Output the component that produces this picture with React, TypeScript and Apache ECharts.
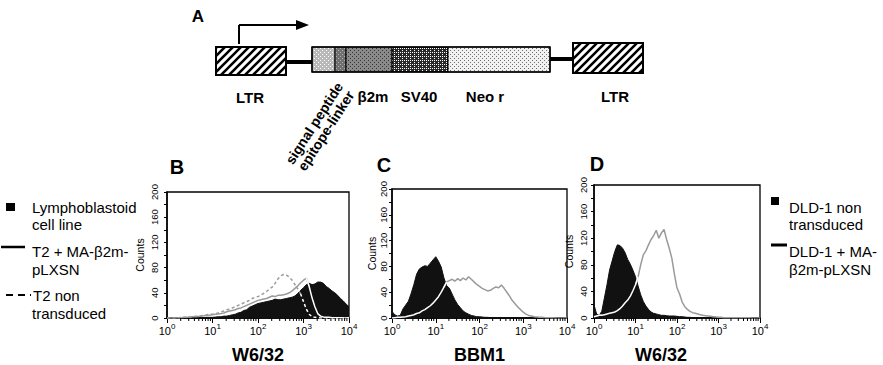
import React, { useEffect, useRef } from 'react';
import * as echarts from 'echarts';

const FONT = '"Liberation Sans", Arial, Helvetica, sans-serif';

// Histogram channels: 16 channels per decade, channel i sits at log10(x) = i / 16 (10^0 .. 10^4)
const CHANNELS_PER_DECADE = 16;
const decadeTicks = [0, 1, 2, 3, 4];
const countTickLabels = [0, 40, 80, 120, 160, 200];

// Panel B (W6/32)
const bLymphoblastoid = [
  0, 0, 0, 0, 0, 0, 0, 0, 0.5, 0, 0.5, 0.5, 1, 0.5, 1, 1,
  1, 1.5, 2, 2, 3, 3, 4, 5, 6, 8, 9, 12, 13, 17, 19, 21,
  23, 24, 25, 26, 27, 28, 30, 29, 29, 30, 31, 32, 33, 35, 39, 44,
  48, 53, 55, 53, 54, 57, 57, 55, 50, 47, 43, 40, 36, 31, 27, 22, 18,
];
const bT2Transduced = [
  0, 0, 0, 0, 0.5, 0.5, 1, 1, 1.5, 2, 2.5, 2.5, 3, 3.5, 4, 4.5,
  5, 6, 6.5, 7, 8, 10, 11, 12, 13, 15, 16, 18, 20, 22, 24, 26,
  28, 29, 30, 31, 33, 35, 34, 36, 36, 37, 38, 40, 43, 47, 51, 56,
  60, 63, 50, 32, 18, 7, 3, 1.5, 1, 1, 0.5, 0.5, 0.5, 0.5, 0, 0, 0,
];
const bT2NonTransduced = [
  0, 0, 0, 0, 0.5, 1, 1, 1, 1.5, 2, 2.5, 3, 3.5, 4, 5, 6,
  6, 7, 8, 10, 11, 13, 14, 16, 18, 20, 22, 24, 26, 28, 31, 33,
  34, 36, 39, 42, 46, 49, 55, 62, 67, 69, 68, 65, 60, 53, 46, 38,
  26, 14, 6, 2, 1, 0.5, 0, 0, 0, 0, 0, 0, 0, 0, 0, 0, 0,
];

// Panel C (BBM1)
const cControl = [
  10, 5, 3, 4, 14, 20, 26, 38, 52, 68, 76, 79, 81, 80, 85, 90,
  95, 88, 79, 62, 50, 46, 37, 28, 21, 16, 11, 8, 6, 4, 3, 2,
  2, 1.5, 1, 1, 0.5, 0.5, 0.5, 0.5, 0.5, 0.5, 0.5, 0.5, 0.5, 0, 0, 0,
  0, 0, 0, 0, 0, 0, 0, 0, 0, 0, 0, 0, 0, 0, 0, 0, 0,
];
const cTransduced = [
  0, 0.5, 1, 1, 1.5, 2, 3, 4, 5, 7, 8, 11, 13, 16, 19, 23,
  28, 33, 40, 48, 56, 58, 60, 57, 61, 58, 62, 59, 64, 60, 56, 52,
  49, 46, 44, 42, 43, 46, 48, 47, 51, 46, 40, 34, 27, 22, 17, 13,
  9, 6, 4, 3, 2, 1.5, 1, 1, 0.5, 0.5, 0.5, 0.5, 0, 0, 0, 0, 0,
];

// Panel D (W6/32)
const dControl = [
  20, 6, 4, 10, 30, 50, 72, 86, 100, 110, 109, 105, 98, 88, 81, 72,
  62, 48, 35, 25, 18, 13, 9, 7, 6, 5, 4, 4, 3.5, 3, 3, 3,
  2.5, 2, 2, 1.5, 1, 1, 0.5, 0.5, 0.5, 0.5, 0.5, 0.5, 0.5, 0, 0, 0,
  0, 0, 0, 0, 0, 0, 0, 0, 0, 0, 0, 0, 0, 0, 0, 0, 0,
];
const dTransduced = [
  2, 3, 4, 4, 5, 6, 7, 8, 9, 11, 14, 18, 23, 27, 33, 41,
  50, 62, 80, 95, 101, 110, 118, 124, 132, 120, 128, 133, 118, 105, 90, 66,
  45, 36, 24, 17, 13, 10, 8, 7, 6, 5, 4, 3.5, 3, 2.5, 2, 1.5,
  1, 1, 0.5, 0.5, 0.5, 0.5, 0.5, 0.5, 0.5, 0.5, 0.5, 0.5, 0.5, 0, 0, 0, 0,
];

const panels = [
  {
    letter: 'B', title: 'W6/32',
    grid: { left: 167, top: 192, width: 182, height: 128 },
    control: bLymphoblastoid,
    lines: [
      { values: bT2Transduced, dashed: false },
      { values: bT2NonTransduced, dashed: true },
    ],
    labelMargin: 8, nameGap: 22, titlePad: 0,
    letterPos: [177, 167],
  },
  {
    letter: 'C', title: 'BBM1',
    grid: { left: 392, top: 189, width: 175, height: 133 },
    control: cControl,
    lines: [{ values: cTransduced, dashed: false }],
    labelMargin: 4, nameGap: 14, titlePad: 0,
    letterPos: [384, 165],
  },
  {
    letter: 'D', title: 'W6/32',
    grid: { left: 594, top: 185, width: 166, height: 135 },
    control: dControl,
    lines: [{ values: dTransduced, dashed: false }],
    labelMargin: 6, nameGap: 20, titlePad: 32,
    letterPos: [597, 164],
  },
];

const pos = (i: number) => i / CHANNELS_PER_DECADE;

function splitByControl(values: number[], control: number[]) {
  const above = values.map((v, i) => v >= control[i]);
  const n = values.length;
  const outside = values.map((v, i) =>
    [pos(i), above[i] || (i > 0 && above[i - 1]) || (i < n - 1 && above[i + 1]) ? v : null]);
  const inside = values.map((v, i) =>
    [pos(i), !above[i] || (i > 0 && !above[i - 1]) || (i < n - 1 && !above[i + 1]) ? v : null]);
  return { outside, inside };
}

function tile(size: number, bg: string, draw: (ctx: CanvasRenderingContext2D) => void) {
  const c = document.createElement('canvas');
  c.width = size;
  c.height = size;
  const ctx = c.getContext('2d')!;
  ctx.fillStyle = bg;
  ctx.fillRect(0, 0, size, size);
  draw(ctx);
  return { image: c.toDataURL(), repeat: 'repeat', imageWidth: size, imageHeight: size };
}

function dots(size: number, bg: string, dot: string) {
  return tile(size, bg, (ctx) => {
    ctx.fillStyle = dot;
    ctx.fillRect(0, 0, 1, 1);
    ctx.fillRect(size / 2, size / 2, 1, 1);
  });
}

function txt(x: number, y: number, text: string, font: string, align = 'left', extra: any = {}) {
  return {
    type: 'text', x, y, ...extra,
    style: {
      text, font, fill: '#000',
      align, verticalAlign: 'middle', textAlign: align, textVerticalAlign: 'middle',
    },
  };
}

function line(x1: number, y1: number, x2: number, y2: number, w: number, extra: any = {}) {
  return { type: 'line', shape: { x1, y1, x2, y2 }, style: { stroke: '#000', lineWidth: w, ...extra } };
}

export default function App() {
  const ref = useRef<HTMLDivElement>(null);

  useEffect(() => {
    if (!ref.current) return;
    const chart = echarts.init(ref.current, null, { renderer: 'svg' });

    const hatch = tile(8, '#ffffff', (ctx) => {
      ctx.strokeStyle = '#000';
      ctx.lineWidth = 2.6;
      ctx.beginPath();
      for (const o of [-8, 0, 8]) {
        ctx.moveTo(o - 1, 9);
        ctx.lineTo(o + 9, -1);
      }
      ctx.stroke();
    });
    const sigFill = dots(4, '#b8b8b8', '#ffffff');
    const epiFill = dots(4, '#707070', '#b0b0b0');
    const b2mFill = dots(4, '#8a8a8a', '#333333');
    const sv40Fill = tile(4, '#2a2a2a', (ctx) => {
      ctx.fillStyle = '#ffffff';
      ctx.fillRect(0, 0, 1, 1);
      ctx.fillRect(2, 2, 1, 1);
      ctx.fillRect(2, 0, 1, 1);
    });
    const neoFill = dots(4, '#f2f2f2', '#707070');

    const bold = (s: number) => `bold ${s}px ${FONT}`;
    const reg = (s: number) => `${s}px ${FONT}`;

    const graphic: any[] = [];
    // Panel A
    graphic.push(txt(198, 16, 'A', bold(17), 'center'));
    graphic.push(line(239, 44, 239, 25, 2));
    graphic.push(line(239, 25, 298, 25, 2));
    graphic.push({ type: 'polygon', shape: { points: [[296, 20], [309, 25], [296, 30]] }, style: { fill: '#000' } });
    graphic.push({ type: 'rect', shape: { x: 216, y: 47, width: 70, height: 28 }, style: { fill: hatch, stroke: '#000', lineWidth: 2 } });
    graphic.push(line(286, 62, 312, 62, 4));
    const segs = [
      { from: 312, to: 335, fill: sigFill },
      { from: 335, to: 346, fill: epiFill },
      { from: 346, to: 392, fill: b2mFill },
      { from: 392, to: 448, fill: sv40Fill },
      { from: 448, to: 550, fill: neoFill },
    ];
    for (const s of segs) {
      graphic.push({ type: 'rect', shape: { x: s.from, y: 47, width: s.to - s.from, height: 25 }, style: { fill: s.fill, stroke: '#000', lineWidth: 1 } });
    }
    graphic.push({ type: 'rect', shape: { x: 312, y: 47, width: 238, height: 25 }, style: { fill: 'none', stroke: '#000', lineWidth: 1.5 } });
    graphic.push(line(550, 59, 573, 59, 4));
    graphic.push({ type: 'rect', shape: { x: 573, y: 43, width: 70, height: 30 }, style: { fill: hatch, stroke: '#000', lineWidth: 2 } });
    graphic.push(txt(250, 97, 'LTR', bold(15), 'center'));
    graphic.push(txt(373, 96, 'β2m', bold(15), 'center'));
    graphic.push(txt(419, 96, 'SV40', bold(15), 'center'));
    graphic.push(txt(485, 96, 'Neo r', bold(15), 'center'));
    graphic.push(txt(615, 96, 'LTR', bold(15), 'center'));
    graphic.push({
      type: 'group', x: 320, y: 127, rotation: 1.0,
      children: [
        txt(0, -7, 'signal peptide', bold(14), 'center'),
        txt(0, 7, 'epitope-linker', bold(14), 'center'),
      ],
    });

    // Panel letters
    for (const p of panels) graphic.push(txt(p.letterPos[0], p.letterPos[1], p.letter, bold(20), 'center'));

    // Left legend
    graphic.push({ type: 'rect', shape: { x: 6, y: 203, width: 9, height: 8 }, style: { fill: '#000' } });
    graphic.push(txt(32, 207, 'Lymphoblastoid', reg(15)));
    graphic.push(txt(32, 224, 'cell line', reg(15)));
    graphic.push(line(1, 247, 25, 247, 2.5));
    graphic.push(txt(32, 251, 'T2 + MA-β2m-', reg(15)));
    graphic.push(txt(32, 269, 'pLXSN', reg(15)));
    graphic.push(line(6, 295, 31, 295, 2, { lineDash: [7, 5] }));
    graphic.push(txt(33, 295, 'T2 non', reg(15)));
    graphic.push(txt(32, 313, 'transduced', reg(15)));

    // Right legend
    graphic.push({ type: 'rect', shape: { x: 771, y: 197, width: 8, height: 8 }, style: { fill: '#000' } });
    graphic.push(txt(789, 207, 'DLD-1 non', reg(15)));
    graphic.push(txt(789, 224, 'transduced', reg(15)));
    graphic.push(line(771, 245, 787, 245, 3));
    graphic.push(txt(789, 251, 'DLD-1 + MA-', reg(15)));
    graphic.push(txt(789, 269, 'β2m-pLXSN', reg(15)));

    const minorTickPositions: number[] = [];
    for (let d = 0; d < 4; d++) for (let k = 2; k <= 9; k++) minorTickPositions.push(d + Math.log10(k));

    const grids: any[] = [];
    const xAxes: any[] = [];
    const yAxes: any[] = [];
    const series: any[] = [];

    panels.forEach((p, k) => {
      grids.push({ ...p.grid, show: true, borderColor: '#000', borderWidth: 1.3, backgroundColor: 'transparent' });
      xAxes.push({
        gridIndex: k, type: 'value', min: decadeTicks[0], max: decadeTicks[decadeTicks.length - 1], interval: 1,
        axisLine: { show: true, onZero: false, lineStyle: { color: '#000', width: 1.5 } },
        axisTick: { show: true, length: 5, lineStyle: { color: '#000', width: 1 } },
        splitLine: { show: false },
        axisLabel: {
          margin: 4, color: '#000', fontSize: 11, fontFamily: FONT,
          formatter: (v: number) => `{b|10}{s|${v}}`,
          rich: {
            b: { fontSize: 11, fontFamily: FONT, color: '#000', lineHeight: 12, padding: [6, 0, 0, 0] },
            s: { fontSize: 8, fontFamily: FONT, color: '#000', lineHeight: 9, verticalAlign: 'top' },
          },
        },
        name: p.title, nameLocation: 'middle', nameGap: 28,
        nameTextStyle: { fontSize: 18, fontWeight: 'bold', fontFamily: FONT, color: '#000', padding: [0, p.titlePad, 0, 0] },
      });
      yAxes.push({
        gridIndex: k, type: 'value', min: 0, max: countTickLabels[countTickLabels.length - 1], interval: 20,
        axisLine: { show: true, onZero: false, lineStyle: { color: '#000', width: 1.5 } },
        axisTick: { show: true, length: 3, lineStyle: { color: '#000', width: 1 } },
        splitLine: { show: false },
        axisLabel: {
          rotate: 90, fontSize: 9.5, fontFamily: FONT, color: '#000', margin: p.labelMargin,
          formatter: (v: number) => (countTickLabels.includes(v) ? String(v) : ''),
        },
        name: 'Counts', nameLocation: 'middle', nameRotate: 90, nameGap: p.nameGap,
        nameTextStyle: { fontSize: 10.5, fontFamily: FONT, color: '#000' },
      });
      series.push({
        type: 'line', xAxisIndex: k, yAxisIndex: k, symbol: 'none', z: 2,
        data: p.control.map((v, i) => [pos(i), v]),
        lineStyle: { color: '#111', width: 1 },
        areaStyle: { color: '#111', opacity: 1 },
      });
      p.lines.forEach((ln) => {
        const { outside, inside } = splitByControl(ln.values, p.control);
        const type = ln.dashed ? [3, 2.5] : 'solid';
        series.push({
          type: 'line', xAxisIndex: k, yAxisIndex: k, symbol: 'none', z: 3, connectNulls: false,
          data: outside, lineStyle: { color: '#9a9a9a', width: 1.5, type },
        });
        series.push({
          type: 'line', xAxisIndex: k, yAxisIndex: k, symbol: 'none', z: 4, connectNulls: false,
          data: inside, lineStyle: { color: '#ffffff', width: 1.5, type },
        });
      });
      series.push({
        type: 'custom', xAxisIndex: k, yAxisIndex: k, z: 6, silent: true, clip: false,
        data: minorTickPositions.map((x) => [x, 0]),
        renderItem: (_params: any, api: any) => {
          const pt = api.coord([api.value(0), 0]);
          return { type: 'line', shape: { x1: pt[0], y1: pt[1], x2: pt[0], y2: pt[1] + 3 }, style: { stroke: '#000', lineWidth: 1 } };
        },
      });
    });

    chart.setOption({
      animation: false,
      backgroundColor: '#ffffff',
      textStyle: { fontFamily: FONT },
      grid: grids,
      xAxis: xAxes,
      yAxis: yAxes,
      series,
      graphic,
    });

    return () => chart.dispose();
  }, []);

  return (
    <div
      ref={ref}
      style={{ position: 'absolute', left: 0, top: 0, width: 883, height: 365, background: '#fff' }}
    />
  );
}
